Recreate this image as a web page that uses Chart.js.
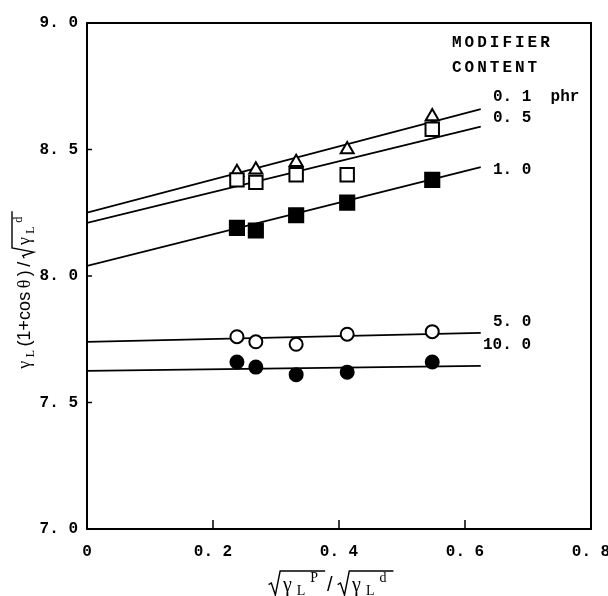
<!DOCTYPE html>
<html><head><meta charset="utf-8">
<script src="https://cdn.jsdelivr.net/npm/chart.js@4"></script>
<style>html,body{margin:0;padding:0;background:#fff}#wrap{width:608px;height:596px;position:relative}</style>
</head><body><div id="wrap"><canvas id="c"></canvas></div>
<script>
// ---- data ----
const xVals = [0.238, 0.268, 0.332, 0.413, 0.548];
const s01  = [8.41, 8.42, 8.45, 8.50, 8.63];   // open triangles, 0.1 phr
const s05  = [8.38, 8.37, 8.40, 8.40, 8.58];   // open squares, 0.5
const s10  = [8.19, 8.18, 8.24, 8.29, 8.38];   // filled squares, 1.0
const s50  = [7.76, 7.74, 7.73, 7.77, 7.78];   // open circles, 5.0
const s100 = [7.66, 7.64, 7.61, 7.62, 7.66];   // filled circles, 10.0
const fitX   = [0, 0.625];
const fit01  = [8.25, 8.66];
const fit05  = [8.21, 8.59];
const fit10  = [8.04, 8.43];
const fit50  = [7.74, 7.775];
const fit100 = [7.625, 7.645];
const seriesLabels = ["0. 1  phr", "0. 5", "1. 0", "5. 0", "10. 0"];
const legendTitle = ["MODIFIER", "CONTENT"];
const xTicks = [0, 0.2, 0.4, 0.6, 0.8];
const yTicks = [7.0, 7.5, 8.0, 8.5, 9.0];

const MONO = "'Liberation Mono', monospace";
const fmt = v => v === 0 ? '0' : v.toFixed(1).replace('.', '. ');

function pts(data){ return xVals.map((x,i)=>({x, y:data[i]})); }
function fitPts(data){ return fitX.map((x,i)=>({x, y:data[i]})); }
function marks(label, data, style, fill, r, order){
  return {label, data: pts(data), showLine:false, pointStyle:style, pointRadius:r,
    pointBackgroundColor:fill, pointBorderColor:'#000', pointBorderWidth:2, order};
}
function fitLine(data){
  return {data: fitPts(data), showLine:true, borderColor:'#000', borderWidth:1.8,
    pointRadius:0, fill:false, order:10};
}

// rich text (sub/sup/radical) drawing for the axis titles
const SERIF = "'Liberation Serif', serif";
const SANS = "'Liberation Sans', sans-serif";
function fontFor(k, fs, fam){ return (k==='sub'||k==='sup') ? `${Math.round(fs*0.68)}px ${fam}` : `${fs}px ${fam}`; }
function measure(ctx, items, fs, g){
  let w = 0;
  for (const it of items){
    if (it.rad){ w += fs*0.62 + 2 + measure(ctx, it.rad, fs, g) + 4; }
    else { ctx.font = fontFor(it.k, fs, it.f||SERIF); w += ctx.measureText(it.t).width + g; }
  }
  return w;
}
function drawRich(ctx, items, x, y, fs, g){
  for (const it of items){
    if (it.rad){
      const inner = measure(ctx, it.rad, fs, g);
      ctx.beginPath();
      ctx.moveTo(x, y - fs*0.32);
      ctx.lineTo(x + fs*0.14, y - fs*0.4);
      ctx.lineTo(x + fs*0.34, y + fs*0.2);
      ctx.lineTo(x + fs*0.58, y - fs*1.0);
      ctx.lineTo(x + fs*0.62 + inner + 4, y - fs*1.0);
      ctx.lineWidth = 1.4; ctx.strokeStyle = '#000'; ctx.stroke();
      x = drawRich(ctx, it.rad, x + fs*0.62 + 2, y, fs, g) + 4;
    } else {
      ctx.font = fontFor(it.k, fs, it.f||SERIF);
      let yy = y;
      if (it.k==='sub') yy = y + fs*0.2;
      if (it.k==='sup') yy = y - fs*0.45;
      ctx.fillText(it.t, x, yy);
      x += ctx.measureText(it.t).width + g;
    }
  }
  return x;
}
const xTitle = [
  {rad:[{t:'γ'},{t:'L',k:'sub'},{t:'P',k:'sup'}]},
  {t:'/', f:SANS},
  {rad:[{t:'γ'},{t:'L',k:'sub'},{t:'d',k:'sup'}]}
];
const yTitle = [
  {t:'γ'},{t:'L',k:'sub'},{t:'(1+cos',f:SANS},{t:'θ'},{t:')',f:SANS},{t:'/',f:SANS},
  {rad:[{t:'γ'},{t:'L',k:'sub'},{t:'d',k:'sup'}]}
];

const decor = {
  id:'decor',
  afterDraw(chart){
    const {ctx, chartArea:a, scales:{x, y}} = chart;
    ctx.save();
    ctx.strokeStyle = '#000'; ctx.fillStyle = '#000';
    // frame
    ctx.lineWidth = 2;
    ctx.strokeRect(a.left, a.top, a.right - a.left, a.bottom - a.top);
    // inward ticks
    ctx.lineWidth = 1.5;
    ctx.beginPath();
    for (const v of xTicks.slice(1, -1)){ const px = x.getPixelForValue(v); ctx.moveTo(px, a.bottom); ctx.lineTo(px, a.bottom - 9); }
    for (const v of yTicks.slice(1, -1)){ const py = y.getPixelForValue(v); ctx.moveTo(a.left, py); ctx.lineTo(a.left + 5, py); }
    ctx.stroke();
    // legend text
    ctx.textBaseline = 'middle'; ctx.textAlign = 'left';
    ctx.font = `bold 16px ${MONO}`;
    ctx.letterSpacing = '3px';
    ctx.fillText(legendTitle[0], 452, 43);
    ctx.fillText(legendTitle[1], 452, 68);
    ctx.letterSpacing = '0px';
    const lx = [493, 493, 493, 493, 483];
    const ly = [97, 118, 170, 322, 345];
    seriesLabels.forEach((s,i)=> ctx.fillText(s, lx[i], ly[i]));
    // axis titles
    ctx.textBaseline = 'alphabetic';
    const fs = 20, gx = 5;
    const wx = measure(ctx, xTitle, fs, gx);
    drawRich(ctx, xTitle, 332 - wx/2, 591, fs, gx);
    const fy = 18, gy = 3.5;
    const wy = measure(ctx, yTitle, fy, gy);
    ctx.translate(30, 289);
    ctx.rotate(-Math.PI/2);
    drawRich(ctx, yTitle, -wy/2, 0, fy, gy);
    ctx.restore();
  }
};

new Chart(document.getElementById('c'), {
  type:'scatter',
  data:{ datasets:[
    fitLine(fit01), fitLine(fit05), fitLine(fit10), fitLine(fit50), fitLine(fit100),
    marks(seriesLabels[0], s01, 'triangle', '#fff', 7.5, 6),
    marks(seriesLabels[1], s05, 'rect', '#fff', 9.5, 5),
    marks(seriesLabels[2], s10, 'rect', '#000', 10, 4),
    marks(seriesLabels[3], s50, 'circle', '#fff', 6.5, 3),
    marks(seriesLabels[4], s100, 'circle', '#000', 6.5, 2)
  ]},
  options:{
    responsive:true, maintainAspectRatio:false, animation:false,
    layout:{padding:{top:23, right:17, left:0, bottom:0}},
    plugins:{legend:{display:false}, tooltip:{enabled:false}},
    scales:{
      x:{type:'linear', min:0, max:0.8,
        afterBuildTicks: s => { s.ticks = xTicks.map(v=>({value:v})); },
        afterFit: s => { s.height = 67; s.paddingLeft = 0; s.paddingRight = 0; },
        grid:{display:false, drawTicks:false}, border:{display:false},
        ticks:{callback: v => fmt(v), padding:13, maxRotation:0, autoSkip:false,
          color:'#000', font:{family:MONO, size:16, weight:'bold'}}},
      y:{type:'linear', min:7, max:9,
        afterBuildTicks: s => { s.ticks = yTicks.map(v=>({value:v})); },
        afterFit: s => { s.width = 87; },
        grid:{display:false, drawTicks:false}, border:{display:false},
        ticks:{callback: v => fmt(v), padding:9, autoSkip:false,
          color:'#000', font:{family:MONO, size:16, weight:'bold'}}}
    }
  },
  plugins:[decor]
});
</script>
</body></html>
